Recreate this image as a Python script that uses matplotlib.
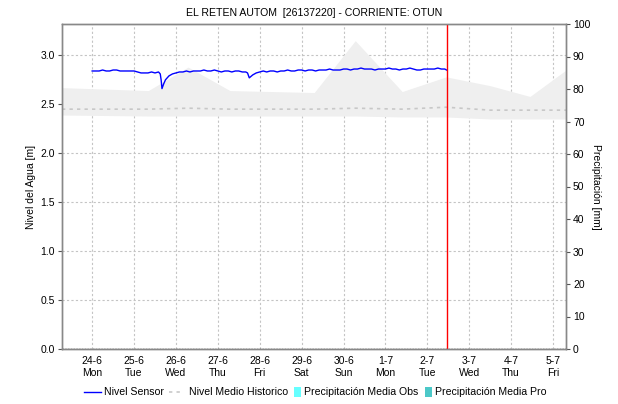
import matplotlib
matplotlib.use("Agg")
import matplotlib.pyplot as plt
import pandas as pd
from matplotlib.lines import Line2D
from matplotlib.patches import Rectangle

plt.rcParams['font.family'] = ['Liberation Sans', 'DejaVu Sans']

start = pd.Timestamp('2024-06-24 00:00')

# sensor level, hours since 24-6 00:00
sensor_hours = [0, 2, 4, 6, 8, 10, 12, 14, 16, 18, 20, 22,
                24, 26, 28, 30, 32, 34, 36, 38, 39, 39.5, 40, 41, 42, 44, 46,
                48, 50, 52, 54, 56, 58, 60, 62, 64, 66, 68, 70,
                72, 74, 76, 78, 80, 82, 84, 86, 88, 89, 90, 92, 94,
                96, 98, 100, 102, 104, 106, 108, 110, 112, 114, 116, 118,
                120, 122, 124, 126, 128, 130, 132, 134, 136, 138, 140, 142,
                144, 146, 148, 150, 152, 154, 156, 158, 160, 162, 164, 166,
                168, 170, 172, 174, 176, 178, 180, 182, 184, 186, 188, 190,
                192, 194, 196, 198, 200, 202, 203]
sensor_level = [2.84, 2.84, 2.84, 2.85, 2.84, 2.84, 2.85, 2.85, 2.84, 2.84, 2.84, 2.84,
                2.84, 2.83, 2.82, 2.82, 2.82, 2.83, 2.82, 2.83, 2.81, 2.75, 2.66, 2.71, 2.75, 2.79, 2.81,
                2.82, 2.83, 2.83, 2.84, 2.83, 2.84, 2.84, 2.84, 2.85, 2.84, 2.84, 2.85,
                2.84, 2.83, 2.84, 2.84, 2.83, 2.84, 2.84, 2.83, 2.83, 2.82, 2.77, 2.80, 2.82,
                2.83, 2.84, 2.83, 2.84, 2.84, 2.83, 2.84, 2.84, 2.85, 2.84, 2.84, 2.85,
                2.85, 2.84, 2.85, 2.85, 2.84, 2.85, 2.85, 2.85, 2.86, 2.85, 2.85, 2.85,
                2.86, 2.86, 2.85, 2.86, 2.86, 2.87, 2.86, 2.86, 2.86, 2.85, 2.86, 2.86,
                2.86, 2.87, 2.86, 2.86, 2.85, 2.86, 2.86, 2.87, 2.86, 2.85, 2.85, 2.86,
                2.86, 2.86, 2.86, 2.87, 2.86, 2.86, 2.85]

# historical band (days since 24-6 00:00)
band_days = [-0.72, 1.34, 2.29, 3.29, 5.3, 6.28, 7.4, 8.45, 9.5, 10.45, 11.31]
band_upper = [2.67, 2.64, 2.88, 2.64, 2.62, 3.15, 2.63, 2.78, 2.69, 2.58, 2.85]
band_lower = [2.39, 2.38, 2.38, 2.38, 2.38, 2.38, 2.37, 2.37, 2.35, 2.35, 2.35]
hist_mean = [2.45, 2.45, 2.46, 2.45, 2.45, 2.46, 2.45, 2.47, 2.44, 2.44, 2.44]

day_labels = ['24-6\nMon', '25-6\nTue', '26-6\nWed', '27-6\nThu', '28-6\nFri', '29-6\nSat',
              '30-6\nSun', '1-7\nMon', '2-7\nTue', '3-7\nWed', '4-7\nThu', '5-7\nFri']
now_hours = 203

t_sensor = [start + pd.Timedelta(hours=h) for h in sensor_hours]
t_band = [start + pd.Timedelta(days=d) for d in band_days]
t_ticks = [start + pd.Timedelta(days=i) for i in range(len(day_labels))]

W, H = 618, 404
fig = plt.figure(figsize=(W / 100, H / 100), dpi=100)
ax = fig.add_axes([62 / W, 1 - 349 / H, 504 / W, 325 / H])
ax2 = ax.twinx()

sensor_color = '#0000ff'
hist_color = '#c8c8c8'
hist_style = (0, (2, 2.5))

ax.fill_between(t_band, band_lower, band_upper, color='#efefef', linewidth=0, zorder=1)
ax.plot(t_band, hist_mean, color=hist_color, linewidth=1.2, linestyle=hist_style, zorder=2)
ax.plot(t_sensor, sensor_level, color=sensor_color, linewidth=1.0, zorder=4)
ax.axvline(start + pd.Timedelta(hours=now_hours), color='#ff0000', linewidth=1.0, zorder=5)
ax.axhline(0, color='#333333', linewidth=1.0, linestyle=(0, (1, 1)), zorder=3)

ax.set_xlim(start - pd.Timedelta(days=0.72), start + pd.Timedelta(days=11.31))
ax.set_ylim(0, 3.32)
ax.set_yticks([0, 0.5, 1.0, 1.5, 2.0, 2.5, 3.0])
ax.set_yticklabels(['0.0', '0.5', '1.0', '1.5', '2.0', '2.5', '3.0'])
ax.set_xticks(t_ticks)
ax.set_xticklabels(day_labels)
ax.grid(True, color='#c4c4c4', linewidth=0.8, linestyle=(0, (2, 2)))
ax.set_axisbelow(True)
ax.tick_params(axis='y', labelsize=7.5, length=3, color='#555555', pad=2)
ax.tick_params(axis='x', labelsize=7.5, length=0, pad=5)
ax.set_ylabel('Nivel del Agua [m]', fontsize=7.5, labelpad=3)

ax2.set_ylim(0, 100)
ax2.set_yticks(range(0, 101, 10))
ax2.tick_params(axis='y', labelsize=7.5, length=3, color='#555555', pad=2)
ax2.set_ylabel('Precipitación [mm]', fontsize=7.5, rotation=270, labelpad=8)

for a in (ax, ax2):
    for s in a.spines.values():
        s.set_color('#888888')
        s.set_linewidth(1.0)

ax.set_title('EL RETEN AUTOM  [26137220] - CORRIENTE: OTUN', fontsize=7.6, pad=6)

# legend row along the bottom, laid out in pixel positions
ly = 1 - 392 / H
fig.add_artist(Line2D([84 / W, 101 / W], [ly, ly], color=sensor_color, linewidth=1.0,
                      transform=fig.transFigure))
fig.add_artist(Line2D([169 / W, 184 / W], [ly, ly], color=hist_color, linewidth=1.2,
                      linestyle=hist_style, transform=fig.transFigure))
fig.add_artist(Rectangle((294 / W, ly - 5 / H), 7 / W, 10 / H, color='#66ffff',
                         linewidth=0, transform=fig.transFigure))
fig.add_artist(Rectangle((425 / W, ly - 5 / H), 7 / W, 10 / H, color='#4cc8c8',
                         linewidth=0, transform=fig.transFigure))
legend_labels = ['Nivel Sensor', 'Nivel Medio Historico', 'Precipitación Media Obs', 'Precipitación Media Pro']
legend_x = [104, 189, 304, 435]
for x, txt in zip(legend_x, legend_labels):
    fig.text(x / W, ly, txt, fontsize=7.6, ha='left', va='center')

fig.savefig('out.png', dpi=100)
